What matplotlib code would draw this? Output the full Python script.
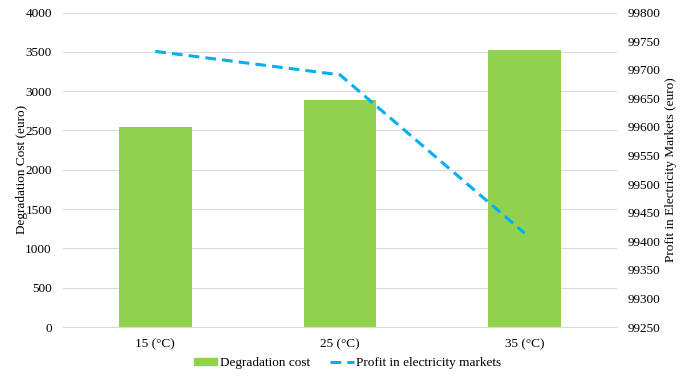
import matplotlib
matplotlib.use("Agg")
import matplotlib.pyplot as plt
from matplotlib.lines import Line2D
from matplotlib.patches import Patch

categories = ["15 (°C)", "25 (°C)", "35 (°C)"]
degradation_cost = [2540, 2890, 3525]
profit = [99732, 99691, 99414]

plt.rcParams['font.family'] = ['Liberation Serif']
plt.rcParams['font.size'] = 9.5

fig = plt.figure(figsize=(6.95, 3.79), dpi=100)
ax = fig.add_axes([63/695, 1 - 327/379, (617-63)/695, (327-12.5)/379])
x = range(len(categories))
ax.bar(x, degradation_cost, width=0.395, color="#92D050", zorder=2)
ax.set_xlim(-0.5, 2.5)
ax.set_ylim(0, 4000)
ax.set_yticks(range(0, 4001, 500))
ax.set_xticks(list(x))
ax.set_xticklabels(categories)
ax.grid(axis="y", color="#D9D9D9", linewidth=0.8, zorder=0)
ax.set_axisbelow(True)
for s in ax.spines.values():
    s.set_visible(False)
ax.spines['bottom'].set_visible(True)
ax.spines['bottom'].set_color("#D9D9D9")
ax.tick_params(length=0, pad=8, colors="#000000")
ax.set_ylabel("Degradation Cost (euro)", labelpad=-2)

ax2 = ax.twinx()
ax2.plot(list(x), profit, color="#00B0F0", linestyle=(0, (3.5, 2)), linewidth=2.2, zorder=3)
ax2.set_ylim(99250, 99800)
ax2.set_yticks(range(99250, 99801, 50))
for s in ax2.spines.values():
    s.set_visible(False)
ax2.tick_params(length=0, pad=8)
ax2.set_ylabel("Profit in Electricity Markets (euro)", labelpad=3)

handles = [Patch(color="#92D050", label="Degradation cost"),
           Line2D([0], [0], color="#00B0F0", linestyle=(0, (3.5, 2)), linewidth=2.2,
                  label="Profit in electricity markets")]
fig.legend(handles=handles, loc="center", bbox_to_anchor=(0.5, 1 - 363/379), ncol=2,
           frameon=False, handlelength=1.8, handletextpad=0.2, columnspacing=1.5,
           handleheight=0.5)

fig.savefig("out.png", dpi=100)
